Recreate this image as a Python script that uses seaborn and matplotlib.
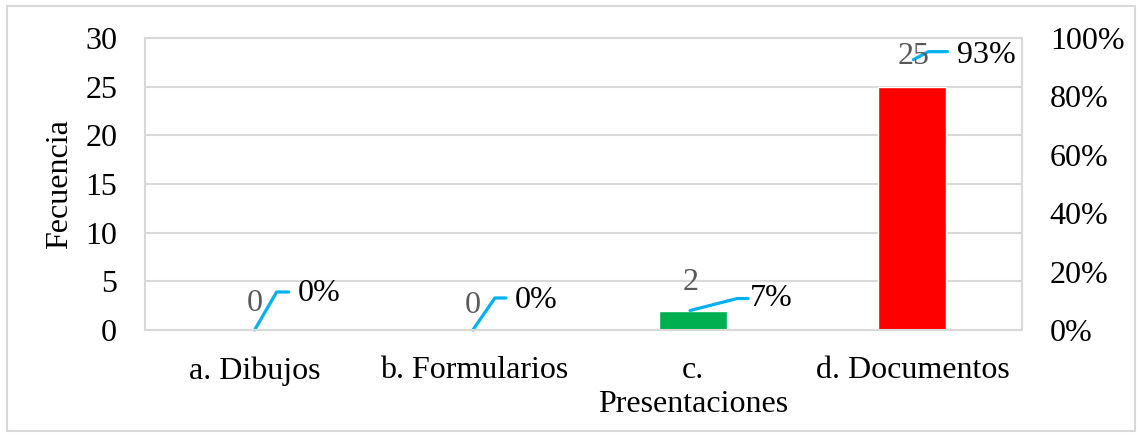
import numpy as np
import matplotlib
matplotlib.use('Agg')
import matplotlib.pyplot as plt
import matplotlib.transforms as mtransforms
from matplotlib.patches import Rectangle
from matplotlib.ticker import PercentFormatter
import seaborn as sns

# datos
categorias = ['a. Dibujos', 'b. Formularios', 'c.\nPresentaciones', 'd. Documentos']
frecuencia = [0, 0, 2, 25]
porcentaje = [0.00, 0.00, 0.07, 0.93]
colores = ['#4472C4', '#ED7D31', '#00B050', '#FF0000']

# posiciones de etiquetas (pixeles)
off_frec = [(0, 27), (-1, 25), (-3, 28), (1, 30)]
off_pct = [(43, 37), (41, 30), (57, 11), (45, 3)]
lineas_guia = [
    [(0, 0), (22, 38), (34, 38)],
    [(-1, 0), (21, 32), (32, 32)],
    [(-3, 0), (44, 12), (55, 12)],
    [(1, 27), (16, 35), (35, 35)],
]

sns.set_theme(style='white')
plt.rcParams['font.family'] = ['Liberation Serif', 'DejaVu Serif']
plt.rcParams['text.color'] = 'black'
plt.rcParams['axes.labelcolor'] = 'black'
plt.rcParams['xtick.color'] = 'black'
plt.rcParams['ytick.color'] = 'black'
FS = 23
GRIS = '#d9d9d9'

fig = plt.figure(figsize=(11.42, 4.36), dpi=100)
ax = fig.add_axes([145 / 1142, 1 - 330 / 436, (1022 - 145) / 1142, (330 - 38) / 436])

sns.barplot(x=categorias, y=frecuencia, hue=categorias, palette=colores,
            legend=False, width=0.31, saturation=1, ax=ax)

ax.set_xlim(-0.5, len(categorias) - 0.5)
ax.set_ylim(0, 30)
ax.set_yticks(np.arange(0, 31, 5))
ax.yaxis.grid(True, color=GRIS, linewidth=1.5)
ax.set_axisbelow(True)
for s in ax.spines.values():
    s.set_color(GRIS)
    s.set_linewidth(1.5)
ax.tick_params(axis='both', length=0, labelsize=FS, labelcolor='black')
ax.tick_params(axis='y', pad=20)
ax.tick_params(axis='x', pad=19)
ax.set_xlabel('')
ax.set_ylabel('Fecuencia', fontsize=FS, labelpad=8, color='black')

ax2 = ax.twinx()
ax2.set_ylim(0, 1)
ax2.set_yticks(np.arange(0, 1.01, 0.2))
ax2.yaxis.set_major_formatter(PercentFormatter(1.0, decimals=0))
ax2.tick_params(axis='y', length=0, labelsize=FS, pad=20, labelcolor='black')
for s in ax2.spines.values():
    s.set_visible(False)

# etiquetas de datos
for i, (f, p) in enumerate(zip(frecuencia, porcentaje)):
    ax.annotate(str(f), xy=(i, f), xytext=off_frec[i], textcoords='offset pixels',
                ha='center', va='center', fontsize=FS, color='#595959')
    ax2.annotate(f'{p:.0%}', xy=(i, p), xytext=off_pct[i], textcoords='offset pixels',
                 ha='left', va='center', fontsize=FS, color='black')
    ancla = ax.transData.transform((i, f))
    tr = mtransforms.Affine2D().translate(*ancla)
    xs = [pt[0] for pt in lineas_guia[i]]
    ys = [pt[1] for pt in lineas_guia[i]]
    ax.plot(xs, ys, color='#00B0F0', linewidth=2.3, transform=tr, clip_on=False)

# borde exterior
fig.patches.append(Rectangle((7 / 1142, 1 - 431 / 436), (1135 - 7) / 1142, (431 - 6) / 436,
                             transform=fig.transFigure, fill=False,
                             edgecolor=GRIS, linewidth=1.5))

fig.savefig('out.png', dpi=100)
